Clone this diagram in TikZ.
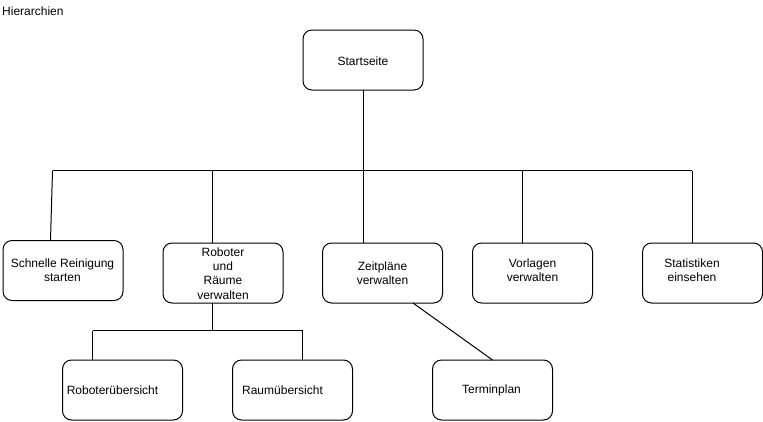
\documentclass[tikz,border=0pt]{standalone}
\usepackage{fontspec}
\setmainfont{Liberation Sans}
\usetikzlibrary{calc}
\tikzset{
  box/.style={draw=black, line width=1pt, rounded corners=9pt, minimum width=120pt, minimum height=60pt, inner sep=0pt, outer sep=0pt},
  lbl/.style={font=\fontsize{12}{14.4}\selectfont, align=center, inner sep=0pt, text=black},
  conn/.style={draw=black, line width=1pt}
}
\begin{document}
\begin{tikzpicture}[x=1pt,y=-1pt]
\useasboundingbox (0,0) rectangle (763,421);
% title
\node[lbl, anchor=base west] (title) at (2,15) {Hierarchien};
% boxes
\node[box] (start) at (363,60) {};
\node[box] (schnelle) at (63,270.5) {};
\node[box] (rob) at (223,273) {};
\node[box] (zeit) at (382.5,273) {};
\node[box] (vorl) at (532.5,273) {};
\node[box] (stat) at (702.5,273) {};
\node[box] (robu) at (122.5,390) {};
\node[box] (raum) at (292.5,390) {};
\node[box] (term) at (492.5,390) {};
% texts
\node[lbl] (startT) at (363,61) {Startseite};
\node[lbl] (schnelleT) at (62.5,270.5) {Schnelle Reinigung\\starten};
\node[lbl] (robT) at (223,273.5) {Roboter\\und\\Räume\\verwalten};
\node[lbl] (zeitT) at (382.5,273.5) {Zeitpläne\\verwalten};
\node[lbl] (vorlT) at (532.5,270.5) {Vorlagen\\verwalten};
\node[lbl] (statT) at (692,270) {Statistiken\\einsehen};
\node[lbl] (robuT) at (112.5,390) {Roboterübersicht};
\node[lbl] (raumT) at (282.5,390) {Raumübersicht};
\node[lbl] (termT) at (491.5,390) {Terminplan};
% connectors
\coordinate (busL) at (52.5,170.5);
\coordinate (busR) at (692,170.5);
\coordinate (dR) at (212.5,170.5);
\coordinate (dV) at (522,170.5);
\draw[conn] (start.south) -- (start.south |- zeit.north);
\draw[conn] (busL) -- (busR);
\draw[conn] (busL) -- ($(schnelle.north west)+(47.5,0)$);
\draw[conn] (dR) -- (dR |- rob.north);
\draw[conn] (dV) -- (dV |- vorl.north);
\draw[conn] (busR) -- (busR |- stat.north);
% subtree of Roboter
\coordinate (sub) at (212.5,330.5);
\coordinate (subL) at (92.5,330.5);
\coordinate (subR) at (302.5,330.5);
\draw[conn] (sub |- rob.south) -- (sub);
\draw[conn] (subL) -- (subR);
\draw[conn] (subL) -- (subL |- robu.north);
\draw[conn] (subR) -- (subR |- raum.north);
% Zeitplaene to Terminplan
\draw[conn] ($(zeit.south west)+(90.5,0)$) -- (term.north);
\end{tikzpicture}
\end{document}
